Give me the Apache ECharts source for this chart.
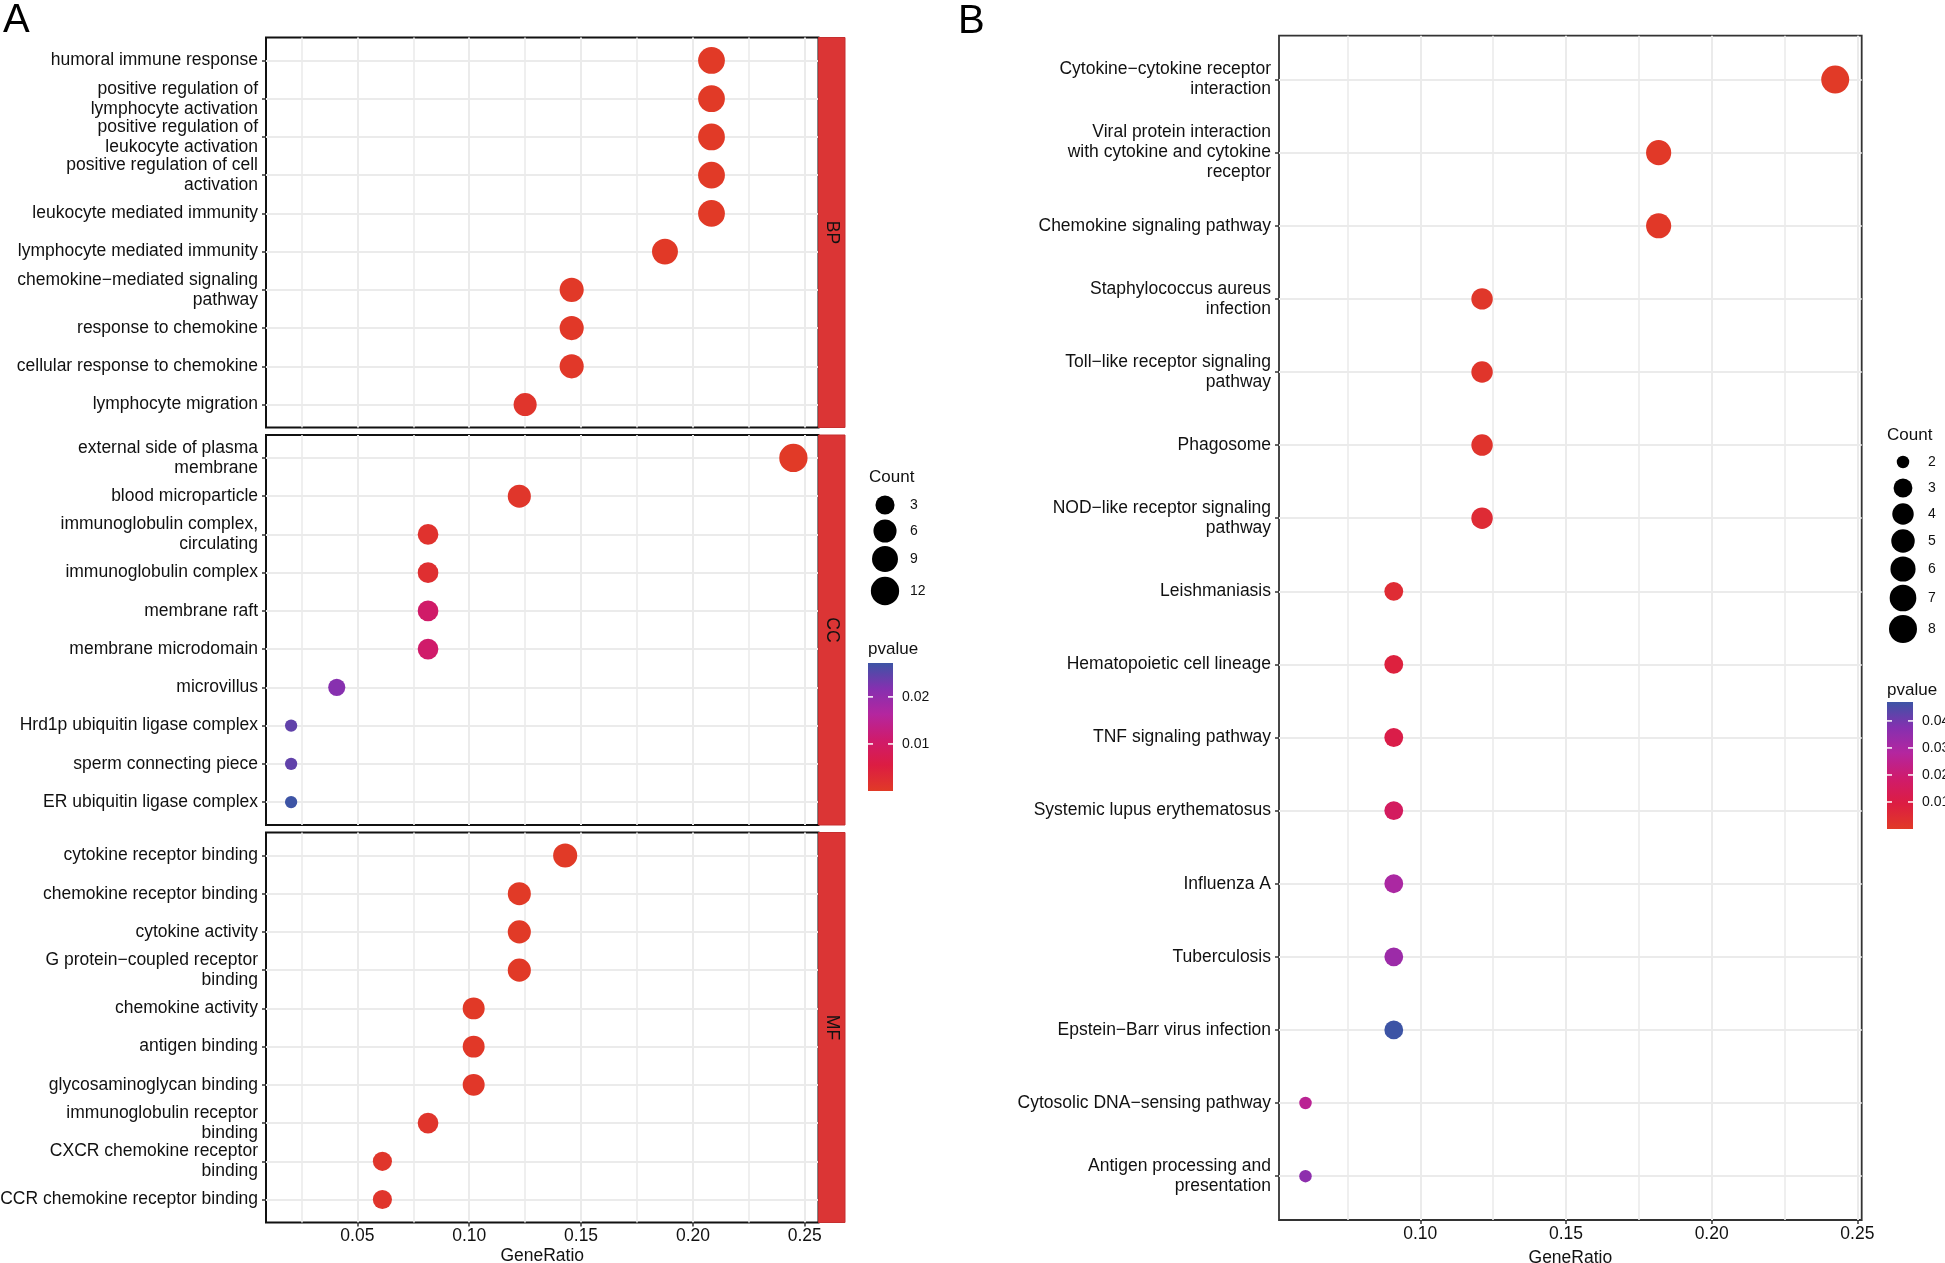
<!DOCTYPE html>
<html><head><meta charset="utf-8">
<script src="https://cdn.jsdelivr.net/npm/echarts@6/dist/echarts.min.js"></script>
<style>html,body{margin:0;padding:0;background:#fff}#c{width:1945px;height:1263px}</style>
</head><body><div id="c"></div>
<script>
// ---------------- DATA ----------------
const bpTerms = ["humoral immune response","positive regulation of\nlymphocyte activation","positive regulation of\nleukocyte activation","positive regulation of cell\nactivation","leukocyte mediated immunity","lymphocyte mediated immunity","chemokine\u2212mediated signaling\npathway","response to chemokine","cellular response to chemokine","lymphocyte migration"];
const bpRatio = [0.2083,0.2083,0.2083,0.2083,0.2083,0.1875,0.1458,0.1458,0.1458,0.1250];
const bpCount = [10,10,10,10,10,9,7,7,7,6];
const bpP     = [0.00001,0.00002,0.00003,0.00004,0.00005,0.0001,0.0002,0.0003,0.0004,0.001];

const ccTerms = ["external side of plasma\nmembrane","blood microparticle","immunoglobulin complex,\ncirculating","immunoglobulin complex","membrane raft","membrane microdomain","microvillus","Hrd1p ubiquitin ligase complex","sperm connecting piece","ER ubiquitin ligase complex"];
const ccRatio = [0.2449,0.1224,0.0816,0.0816,0.0816,0.0816,0.0408,0.0204,0.0204,0.0204];
const ccCount = [12,6,4,4,4,4,2,1,1,1];
const ccP     = [0.00001,0.0008,0.0015,0.002,0.0103,0.0106,0.0215,0.0245,0.0245,0.0272];

const mfTerms = ["cytokine receptor binding","chemokine receptor binding","cytokine activity","G protein\u2212coupled receptor\nbinding","chemokine activity","antigen binding","glycosaminoglycan binding","immunoglobulin receptor\nbinding","CXCR chemokine receptor\nbinding","CCR chemokine receptor binding"];
const mfRatio = [0.1429,0.1224,0.1224,0.1224,0.1020,0.1020,0.1020,0.0816,0.0612,0.0612];
const mfCount = [7,6,6,6,5,5,5,4,3,3];
const mfP     = [0.00001,0.00002,0.00005,0.0001,0.0001,0.0003,0.0005,0.001,0.0008,0.001];

const keggTerms = ["Cytokine\u2212cytokine receptor\ninteraction","Viral protein interaction\nwith cytokine and cytokine\nreceptor","Chemokine signaling pathway","Staphylococcus aureus\ninfection","Toll\u2212like receptor signaling\npathway","Phagosome","NOD\u2212like receptor signaling\npathway","Leishmaniasis","Hematopoietic cell lineage","TNF signaling pathway","Systemic lupus erythematosus","Influenza A","Tuberculosis","Epstein\u2212Barr virus infection","Cytosolic DNA\u2212sensing pathway","Antigen processing and\npresentation"];
const keggRatio = [0.2424,0.1818,0.1818,0.1212,0.1212,0.1212,0.1212,0.0909,0.0909,0.0909,0.0909,0.0909,0.0909,0.0909,0.0606,0.0606];
const keggCount = [8,6,6,4,4,4,4,3,3,3,3,3,3,3,2,2];
const keggP     = [0.00001,0.0003,0.0005,0.001,0.0015,0.002,0.005,0.0045,0.008,0.011,0.016,0.030,0.033,0.047,0.026,0.036];

const facetNames = ["BP","CC","MF"];
const xTicksA = [0.05,0.10,0.15,0.20,0.25];
const xMinorA = [0.025,0.075,0.125,0.175,0.225];
const xTicksB = [0.10,0.15,0.20,0.25];
const xMinorB = [0.075,0.125,0.175,0.225];
const countBreaksA = [3,6,9,12];
const countBreaksB = [2,3,4,5,6,7,8];
const pRangeA = [0, 0.0272];
const pRangeB = [0, 0.047];
const pTicksA = [0.01,0.02];
const pTicksB = [0.01,0.02,0.03,0.04];

// ---------------- STYLE / LAYOUT ----------------
const FONT = "'Liberation Sans', Arial, Helvetica, sans-serif";
const TXT = '#111111';
const GRIDC = '#ebebeb';
const gradColors = ['#e13a27','#dc1d42','#cf1b6c','#b4269f','#8530b0','#3d54a5'];
const A = {left:266, width:552.5, tops:[37.5,435,832.5], height:390};
const B = {left:1279, top:35.7, width:582.7, height:1184.3};
const stripW = 26.5;

function sizeFn(cMin, cMax, dMin, dMax){
  return c => dMin + Math.sqrt((c - cMin)/(cMax - cMin)) * (dMax - dMin);
}
const allA = bpCount.concat(ccCount, mfCount);
const sizeA = sizeFn(Math.min(...allA), Math.max(...allA), 12.3, 28.3);
const sizeB = sizeFn(Math.min(...keggCount), Math.max(...keggCount), 12.5, 28);

function expand(vals){
  const lo = Math.min(...vals), hi = Math.max(...vals), e = (hi-lo)*0.05;
  return [lo - e, hi + e];
}
const xRangeA = expand(bpRatio.concat(ccRatio, mfRatio));
const xRangeB = expand(keggRatio);

const grids = [], xAxes = [], yAxes = [], series = [], graphics = [];

function addPanel(gi, g, terms, ratio, count, pv, xRange, xTicks, xMinor, showX, sizeF, borderColor, borderW){
  grids.push({left:g.left, top:g.top, width:g.width, height:g.height, show:true,
    borderColor:borderColor, borderWidth:borderW, backgroundColor:'#fff',
    containLabel:false, outerBoundsMode:'none'});
  const n = terms.length;
  const idx = terms.map((t,i)=>i);
  // major x axis
  xAxes.push({type:'value', gridIndex:gi, position:'bottom', min:xRange[0], max:xRange[1],
    axisLine:{show:false, onZero:false},
    axisTick:{show:showX, customValues:xTicks, length:4, lineStyle:{color:'#333', width:1.5}},
    axisLabel:{show:showX, customValues:xTicks, formatter:v=>v.toFixed(2), margin:4,
      verticalAlign:'top', fontFamily:FONT, fontSize:17.5, lineHeight:20, color:TXT},
    splitLine:{show:true, lineStyle:{color:GRIDC, width:2}},
    name: showX ? 'GeneRatio' : '', nameLocation:'middle', nameGap:34,
    nameTextStyle:{fontFamily:FONT, fontSize:17.5, color:TXT, verticalAlign:'middle'}});
  // minor x gridlines
  xAxes.push({type:'value', gridIndex:gi, position:'bottom', min:xRange[0], max:xRange[1],
    axisLine:{show:false, onZero:false}, axisLabel:{show:false, customValues:xMinor},
    axisTick:{show:false, customValues:xMinor},
    splitLine:{show:true, lineStyle:{color:GRIDC, width:1.6}}});
  yAxes.push({type:'value', gridIndex:gi, inverse:true, min:-0.6, max:n-0.4,
    axisLine:{show:false, onZero:false},
    axisTick:{show:true, customValues:idx, length:4, lineStyle:{color:'#333', width:1.5}},
    axisLabel:{show:true, customValues:idx, formatter:v=>terms[Math.round(v)], margin:8,
      fontFamily:FONT, fontSize:17.5, lineHeight:20, color:TXT, align:'right'},
    splitLine:{show:true, lineStyle:{color:GRIDC, width:2}}});
  series.push({type:'scatter', xAxisIndex:2*gi, yAxisIndex:gi,
    data: terms.map((t,i)=>[ratio[i], i, pv[i], count[i]]),
    symbol:'circle', symbolSize:d=>sizeF(d[3]), itemStyle:{opacity:1}, z:5});
}

addPanel(0, {left:A.left, top:A.tops[0], width:A.width, height:A.height}, bpTerms, bpRatio, bpCount, bpP, xRangeA, xTicksA, xMinorA, false, sizeA, '#111', 2);
addPanel(1, {left:A.left, top:A.tops[1], width:A.width, height:A.height}, ccTerms, ccRatio, ccCount, ccP, xRangeA, xTicksA, xMinorA, false, sizeA, '#111', 2);
addPanel(2, {left:A.left, top:A.tops[2], width:A.width, height:A.height}, mfTerms, mfRatio, mfCount, mfP, xRangeA, xTicksA, xMinorA, true, sizeA, '#111', 2);
addPanel(3, B, keggTerms, keggRatio, keggCount, keggP, xRangeB, xTicksB, xMinorB, true, sizeB, '#333', 1.8);

// strips
A.tops.forEach((t,i)=>{
  graphics.push({type:'rect', shape:{x:A.left+A.width, y:t, width:stripW, height:A.height},
    style:{fill:'#db3535', stroke:'#c62f2f', lineWidth:1}, z:10});
  graphics.push({type:'text', x:A.left+A.width+stripW/2, y:t+A.height/2, rotation:-Math.PI/2,
    style:{text:facetNames[i], font:'17.5px '+FONT, fill:TXT, textAlign:'center', textVerticalAlign:'middle'}, z:11});
});

// panel letters
graphics.push({type:'text', x:3, y:1, style:{text:'A', font:'40px '+FONT, fill:'#000', textVerticalAlign:'top'}});
graphics.push({type:'text', x:958, y:2, style:{text:'B', font:'40px '+FONT, fill:'#000', textVerticalAlign:'top'}});

// legends
function countLegend(x, titleY, centers, breaks, sizeF){
  graphics.push({type:'text', x:x, y:titleY, style:{text:'Count', font:'17px '+FONT, fill:TXT, textVerticalAlign:'middle'}});
  breaks.forEach((b,i)=>{
    graphics.push({type:'circle', shape:{cx:x+16, cy:centers[i], r:sizeF(b)/2}, style:{fill:'#000'}});
    graphics.push({type:'text', x:x+41, y:centers[i], style:{text:String(b), font:'14px '+FONT, fill:TXT, textVerticalAlign:'middle'}});
  });
}
function colorLegend(x, titleY, barY, barW, barH, range, ticks){
  graphics.push({type:'text', x:x, y:titleY, style:{text:'pvalue', font:'17px '+FONT, fill:TXT, textVerticalAlign:'middle'}});
  const stops = gradColors.map((c,i)=>({offset:i/(gradColors.length-1), color:c}));
  graphics.push({type:'rect', shape:{x:x, y:barY, width:barW, height:barH},
    style:{fill:new echarts.graphic.LinearGradient(0,1,0,0,stops)}});
  ticks.forEach(t=>{
    const y = barY + barH - (t-range[0])/(range[1]-range[0])*barH;
    graphics.push({type:'line', shape:{x1:x, y1:y, x2:x+5, y2:y}, style:{stroke:'#fff', lineWidth:1.5}});
    graphics.push({type:'line', shape:{x1:x+barW-5, y1:y, x2:x+barW, y2:y}, style:{stroke:'#fff', lineWidth:1.5}});
    graphics.push({type:'text', x:x+barW+9, y:y, style:{text:t.toFixed(2), font:'14px '+FONT, fill:TXT, textVerticalAlign:'middle'}});
  });
}
countLegend(869, 477, [505,531,559,591], countBreaksA, sizeA);
colorLegend(868, 649, 663, 25, 128, pRangeA, pTicksA);
countLegend(1887, 435, [462,488,514,541,569,598,629], countBreaksB, sizeB);
colorLegend(1887, 690, 702, 26, 127, pRangeB, pTicksB);

const chart = echarts.init(document.getElementById('c'), null, {renderer:'canvas'});
chart.setOption({
  animation:false,
  backgroundColor:'#ffffff',
  grid:grids, xAxis:xAxes, yAxis:yAxes, series:series,
  visualMap:[
    {type:'continuous', show:false, seriesIndex:[0,1,2], dimension:2, min:pRangeA[0], max:pRangeA[1], inRange:{color:gradColors}},
    {type:'continuous', show:false, seriesIndex:[3], dimension:2, min:pRangeB[0], max:pRangeB[1], inRange:{color:gradColors}}
  ],
  graphic:graphics
});
</script></body></html>
